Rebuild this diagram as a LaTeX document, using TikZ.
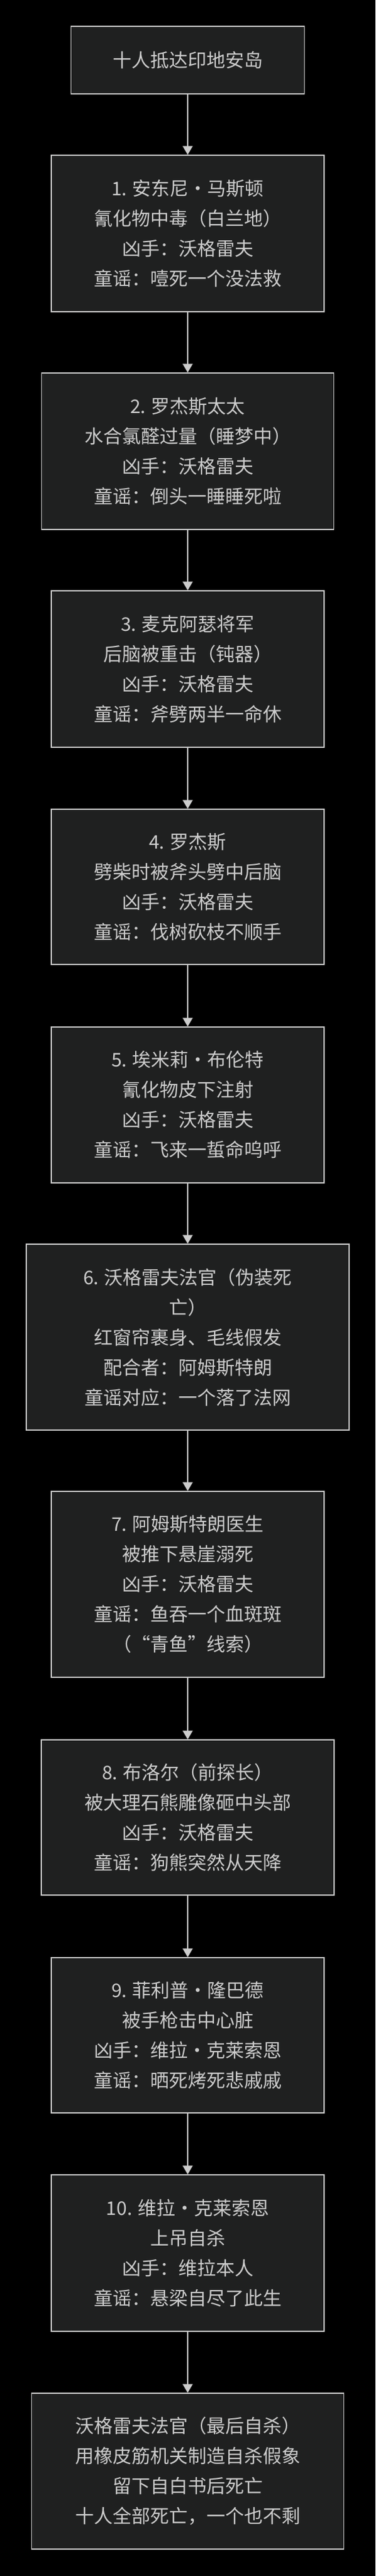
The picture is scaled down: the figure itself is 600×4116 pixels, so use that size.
\documentclass[tikz,border=0pt]{standalone}
\usepackage{fontspec}
\setmainfont{Noto Sans CJK SC}
\usetikzlibrary{arrows.meta}
\definecolor{boxfill}{HTML}{1F2020}
\definecolor{fg}{HTML}{CCCCCC}
\begin{document}
\begin{tikzpicture}[x=1pt,y=-1pt,
  box/.style={draw=fg,fill=boxfill,line width=1.5pt,text=fg,align=center,inner sep=0pt,
    font=\fontsize{30}{48}\selectfont},
  arr/.style={draw=fg,line width=1.5pt,-{Triangle[length=14pt,width=16pt]}}]
\fill[black] (0,0) rectangle (600,4116);
\useasboundingbox (0,0) rectangle (600,4116);
\node[box,minimum width=373pt,minimum height=108pt] (s) at (300,96) {十人抵达印地安岛};
\node[box,minimum width=436pt,minimum height=250pt] (n1) at (300,373) {1. 安东尼·马斯顿\\氰化物中毒（白兰地）\\凶手：沃格雷夫\\童谣：噎死一个没法救};
\node[box,minimum width=467pt,minimum height=250pt] (n2) at (300,721) {2. 罗杰斯太太\\水合氯醛过量（睡梦中）\\凶手：沃格雷夫\\童谣：倒头一睡睡死啦};
\node[box,minimum width=436pt,minimum height=250pt] (n3) at (300,1069) {3. 麦克阿瑟将军\\后脑被重击（钝器）\\凶手：沃格雷夫\\童谣：斧劈两半一命休};
\node[box,minimum width=436pt,minimum height=248pt] (n4) at (300,1417) {4. 罗杰斯\\劈柴时被斧头劈中后脑\\凶手：沃格雷夫\\童谣：伐树砍枝不顺手};
\node[box,minimum width=436pt,minimum height=249pt] (n5) at (300,1765.5) {5. 埃米莉·布伦特\\氰化物皮下注射\\凶手：沃格雷夫\\童谣：飞来一蜇命呜呼};
\node[box,minimum width=516pt,minimum height=297pt] (n6) at (300,2136.5) {6. 沃格雷夫法官（伪装死\\亡）\\红窗帘裹身、毛线假发\\配合者：阿姆斯特朗\\童谣对应：一个落了法网};
\node[box,minimum width=436pt,minimum height=297pt] (n7) at (300,2531.5) {7. 阿姆斯特朗医生\\被推下悬崖溺死\\凶手：沃格雷夫\\童谣：鱼吞一个血斑斑\\（“青鱼”线索）};
\node[box,minimum width=468pt,minimum height=248pt] (n8) at (300,2904) {8. 布洛尔（前探长）\\被大理石熊雕像砸中头部\\凶手：沃格雷夫\\童谣：狗熊突然从天降};
\node[box,minimum width=436pt,minimum height=248pt] (n9) at (300,3252) {9. 菲利普·隆巴德\\被手枪击中心脏\\凶手：维拉·克莱索恩\\童谣：晒死烤死悲戚戚};
\node[box,minimum width=436pt,minimum height=250pt] (n10) at (300,3600) {10. 维拉·克莱索恩\\上吊自杀\\凶手：维拉本人\\童谣：悬梁自尽了此生};
\node[box,minimum width=499pt,minimum height=249pt] (f) at (300,3948.5) {沃格雷夫法官（最后自杀）\\用橡皮筋机关制造自杀假象\\留下自白书后死亡\\十人全部死亡，一个也不剩};
\foreach \a/\b in {s/n1,n1/n2,n2/n3,n3/n4,n4/n5,n5/n6,n6/n7,n7/n8,n8/n9,n9/n10,n10/f}
  \draw[arr] (\a) -- (\b);
\end{tikzpicture}
\end{document}
